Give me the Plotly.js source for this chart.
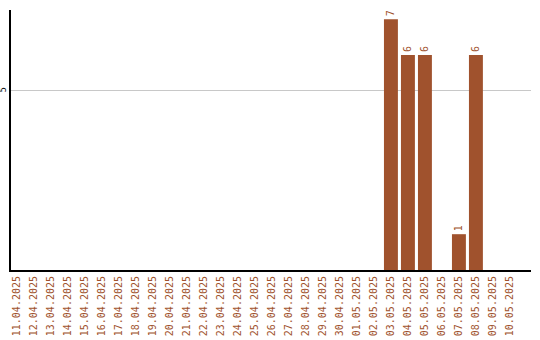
<!DOCTYPE html>
<html>
<head>
<meta charset="utf-8">
<script src="https://cdn.plot.ly/plotly-3.0.1.min.js"></script>
<style>
  html, body { margin: 0; padding: 0; background: #fff; }
  #chart { width: 540px; height: 340px; }
</style>
</head>
<body>
<div id="chart"></div>
<script>
// Daily counts, 11.04.2025 – 10.05.2025
const dates = [
  "11.04.2025", "12.04.2025", "13.04.2025", "14.04.2025", "15.04.2025",
  "16.04.2025", "17.04.2025", "18.04.2025", "19.04.2025", "20.04.2025",
  "21.04.2025", "22.04.2025", "23.04.2025", "24.04.2025", "25.04.2025",
  "26.04.2025", "27.04.2025", "28.04.2025", "29.04.2025", "30.04.2025",
  "01.05.2025", "02.05.2025", "03.05.2025", "04.05.2025", "05.05.2025",
  "06.05.2025", "07.05.2025", "08.05.2025", "09.05.2025", "10.05.2025"
];
const counts = [
  0, 0, 0, 0, 0, 0, 0, 0, 0, 0,
  0, 0, 0, 0, 0, 0, 0, 0, 0, 0,
  0, 0, 7, 6, 6, 0, 1, 6, 0, 0
];
const yTicks = [5];

const barColor = "#a0522d";

// Only non-zero days carry a value label
const labels = counts.map(v => (v > 0 ? String(v) : ""));

const trace = {
  type: "bar",
  x: dates,
  y: counts,
  text: labels,
  textposition: "outside",
  textangle: -90,
  cliponaxis: false,
  textfont: { family: "DejaVu Sans Mono, monospace", size: 10, color: barColor },
  marker: { color: barColor },
  width: 0.82,
  hoverinfo: "x+y"
};

const layout = {
  width: 540,
  height: 340,
  margin: { l: 11, r: 9, t: 10, b: 70, pad: 0 },
  paper_bgcolor: "#ffffff",
  plot_bgcolor: "#ffffff",
  showlegend: false,
  bargap: 0.18,
  xaxis: {
    type: "category",
    range: [-0.35, 30.24],
    tickangle: -90,
    ticks: "",
    tickfont: { family: "DejaVu Sans Mono, monospace", size: 10, color: barColor },
    showgrid: false,
    zeroline: false,
    showline: true,
    linecolor: "#000",
    linewidth: 2
  },
  yaxis: {
    range: [0, 7.26],
    tickmode: "array",
    tickvals: yTicks,
    ticktext: yTicks.map(String),
    tickangle: -90,
    ticks: "",
    ticklen: 0,
    tickfont: { family: "DejaVu Sans", size: 8, color: "#000" },
    showgrid: true,
    gridcolor: "#c8c8c8",
    gridwidth: 1,
    zeroline: false,
    showline: true,
    linecolor: "#000",
    linewidth: 2
  }
};

Plotly.newPlot("chart", [trace], layout, { displayModeBar: false, staticPlot: true });
</script>
</body>
</html>
